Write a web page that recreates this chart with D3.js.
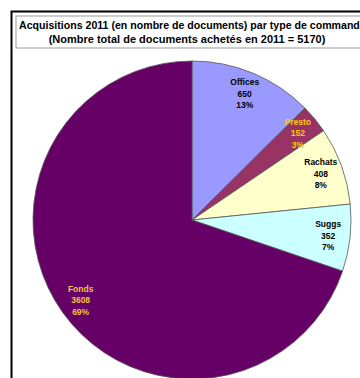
<!DOCTYPE html>
<html><head><meta charset="utf-8">
<script src="https://cdn.jsdelivr.net/npm/d3@7"></script>
<style>html,body{margin:0;padding:0;background:#fff;overflow:hidden}</style>
</head><body>
<svg id="c" width="360" height="378"></svg>
<script>
const categories = ["Offices", "Presto", "Rachats", "Suggs", "Fonds"];
const values = [650, 152, 408, 352, 3608];
const percentLabels = ["13%", "3%", "8%", "7%", "69%"];
const colors = ["#9999FF", "#993366", "#FFFFCC", "#CCFFFF", "#660066"];
const labelColors = ["#000000", "#FFCC00", "#000000", "#000000", "#F2C53D"];
const titleLines = ["Acquisitions 2011 (en nombre de documents) par type de commande",
                    "(Nombre total de documents achetés en 2011 = 5170)"];

const svg = d3.select("#c");
svg.append("rect").attr("x", 11.5).attr("y", 11.5).attr("width", 400).attr("height", 400)
  .attr("fill", "#fff").attr("stroke", "#000").attr("stroke-width", 2);

const cx = 192, cy = 220, R = 159;
const data = categories.map((c, i) => ({c, v: values[i], p: percentLabels[i], col: colors[i], lc: labelColors[i]}));
const pie = d3.pie().value(d => d.v).sort(null);
const arc = d3.arc().innerRadius(0).outerRadius(R);
const labelArc = d3.arc().innerRadius(137).outerRadius(137);
const g = svg.append("g").attr("transform", `translate(${cx},${cy})`);
const arcs = pie(data);
g.selectAll("path").data(arcs).enter().append("path")
  .attr("d", arc).attr("fill", d => d.data.col)
  .attr("stroke", "#555").attr("stroke-width", 0.8);

const lab = g.selectAll("text.l").data(arcs).enter().append("text")
  .attr("class", "l")
  .attr("transform", d => `translate(${labelArc.centroid(d)})`)
  .attr("text-anchor", "middle")
  .attr("font-family", "Liberation Sans, Arial, sans-serif")
  .attr("font-size", 8.5).attr("font-weight", "bold")
  .attr("fill", d => d.data.lc);
lab.append("tspan").attr("x", 0).attr("dy", "-0.95em").text(d => d.data.c);
lab.append("tspan").attr("x", 0).attr("dy", "1.35em").text(d => d.data.v);
lab.append("tspan").attr("x", 0).attr("dy", "1.35em").text(d => d.data.p);

svg.append("rect").attr("x", 16).attr("y", 16).attr("width", 400).attr("height", 32)
  .attr("fill", "#fff").attr("stroke", "#999").attr("stroke-width", 1);
svg.append("text").attr("x", 19).attr("y", 29)
  .attr("font-family", "Liberation Sans, Arial, sans-serif").attr("font-size", 10.6).attr("font-weight", "bold")
  .attr("fill", "#000").text(titleLines[0]);
svg.append("text").attr("x", 187).attr("y", 42.5).attr("text-anchor", "middle")
  .attr("font-family", "Liberation Sans, Arial, sans-serif").attr("font-size", 11).attr("font-weight", "bold")
  .attr("fill", "#000").text(titleLines[1]);
</script>
</body></html>
